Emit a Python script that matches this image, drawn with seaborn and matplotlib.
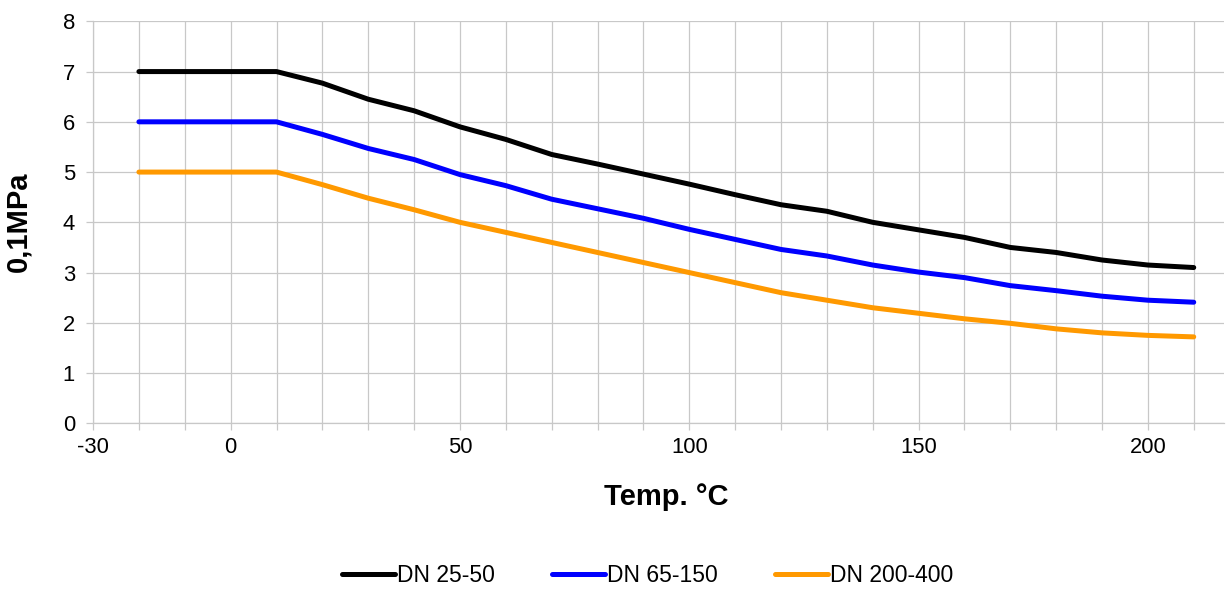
import numpy as np
import pandas as pd
import matplotlib
matplotlib.use("Agg")
import matplotlib.pyplot as plt
import seaborn as sns
from matplotlib.lines import Line2D

# temperatures (deg C) and pressure ratings (0,1 MPa)
temps = [-20, -10, 0, 10, 20, 30, 40, 50, 60, 70, 80, 90, 100, 110,
         120, 130, 140, 150, 160, 170, 180, 190, 200, 210]
dn_25_50 = [7, 7, 7, 7, 6.77, 6.45, 6.22, 5.9, 5.65, 5.35, 5.16, 4.96, 4.76, 4.55,
            4.35, 4.22, 4.0, 3.85, 3.7, 3.5, 3.4, 3.25, 3.15, 3.1]
dn_65_150 = [6, 6, 6, 6, 5.75, 5.47, 5.25, 4.95, 4.73, 4.46, 4.27, 4.08, 3.86, 3.66,
             3.46, 3.33, 3.15, 3.01, 2.9, 2.74, 2.64, 2.53, 2.45, 2.41]
dn_200_400 = [5, 5, 5, 5, 4.75, 4.48, 4.25, 4.0, 3.8, 3.6, 3.4, 3.2, 3.0, 2.8,
              2.6, 2.45, 2.3, 2.19, 2.08, 1.99, 1.88, 1.8, 1.75, 1.72]

series_names = ["DN 25-50", "DN 65-150", "DN 200-400"]
series_colors = ["#000000", "#0000FF", "#FF9900"]
x_labels = [-30, 0, 50, 100, 150, 200]

df = pd.DataFrame({
    "temp": temps * 3,
    "pressure": dn_25_50 + dn_65_150 + dn_200_400,
    "series": [series_names[0]] * len(temps) + [series_names[1]] * len(temps)
              + [series_names[2]] * len(temps),
})

sns.set_theme(style="white")
plt.rcParams["font.family"] = ["Liberation Sans", "DejaVu Sans"]
plt.rcParams["axes.unicode_minus"] = False
plt.rcParams["text.color"] = "black"

fig = plt.figure(figsize=(12.26, 5.89), dpi=100)
ax = fig.add_axes([0.0759, 0.2813, 0.9221, 0.6825])

sns.lineplot(data=df, x="temp", y="pressure", hue="series", palette=series_colors,
             linewidth=3.6, solid_capstyle="round", legend=False, ax=ax)

grid_c = "#c8c8c8"
ax.set_xlim(-30, 216.5)
ax.set_ylim(0, 8)
ax.set_yticks(range(0, 9))
ax.set_xticks(x_labels)
ax.set_xticks(range(-30, 211, 10), minor=True)
ax.grid(True, which="both", color=grid_c, linewidth=0.9)
ax.set_axisbelow(True)
for side in ["top", "right"]:
    ax.spines[side].set_visible(False)
for side in ["left", "bottom"]:
    ax.spines[side].set_color(grid_c)
    ax.spines[side].set_linewidth(0.9)

ax.tick_params(axis="both", which="both", length=5, width=0.9, color=grid_c,
               labelsize=15.8, labelcolor="black", left=True, bottom=True)
ax.tick_params(axis="y", pad=8)
ax.tick_params(axis="x", pad=5)

ax.set_xlabel("")
ax.set_ylabel("")
fig.text(666 / 1226, 1 - 497 / 589, "Temp. °C", ha="center", va="center",
         fontsize=21, fontweight="bold", color="black")
fig.text(18 / 1226, 1 - 222 / 589, "0,1MPa", ha="center", va="center",
         rotation=90, fontsize=21, fontweight="bold", color="black")

handles = [Line2D([0], [0], color=c, linewidth=3.6, solid_capstyle="round")
           for c in series_colors]
leg = fig.legend(handles, series_names, loc="center",
                 bbox_to_anchor=(648 / 1226, 1 - 576 / 589),
                 ncol=3, frameon=False, fontsize=16.5, handlelength=2.3,
                 handletextpad=0.1, columnspacing=2.5)
for t in leg.get_texts():
    t.set_color("black")

plt.savefig("out.png", dpi=100)
plt.close()
